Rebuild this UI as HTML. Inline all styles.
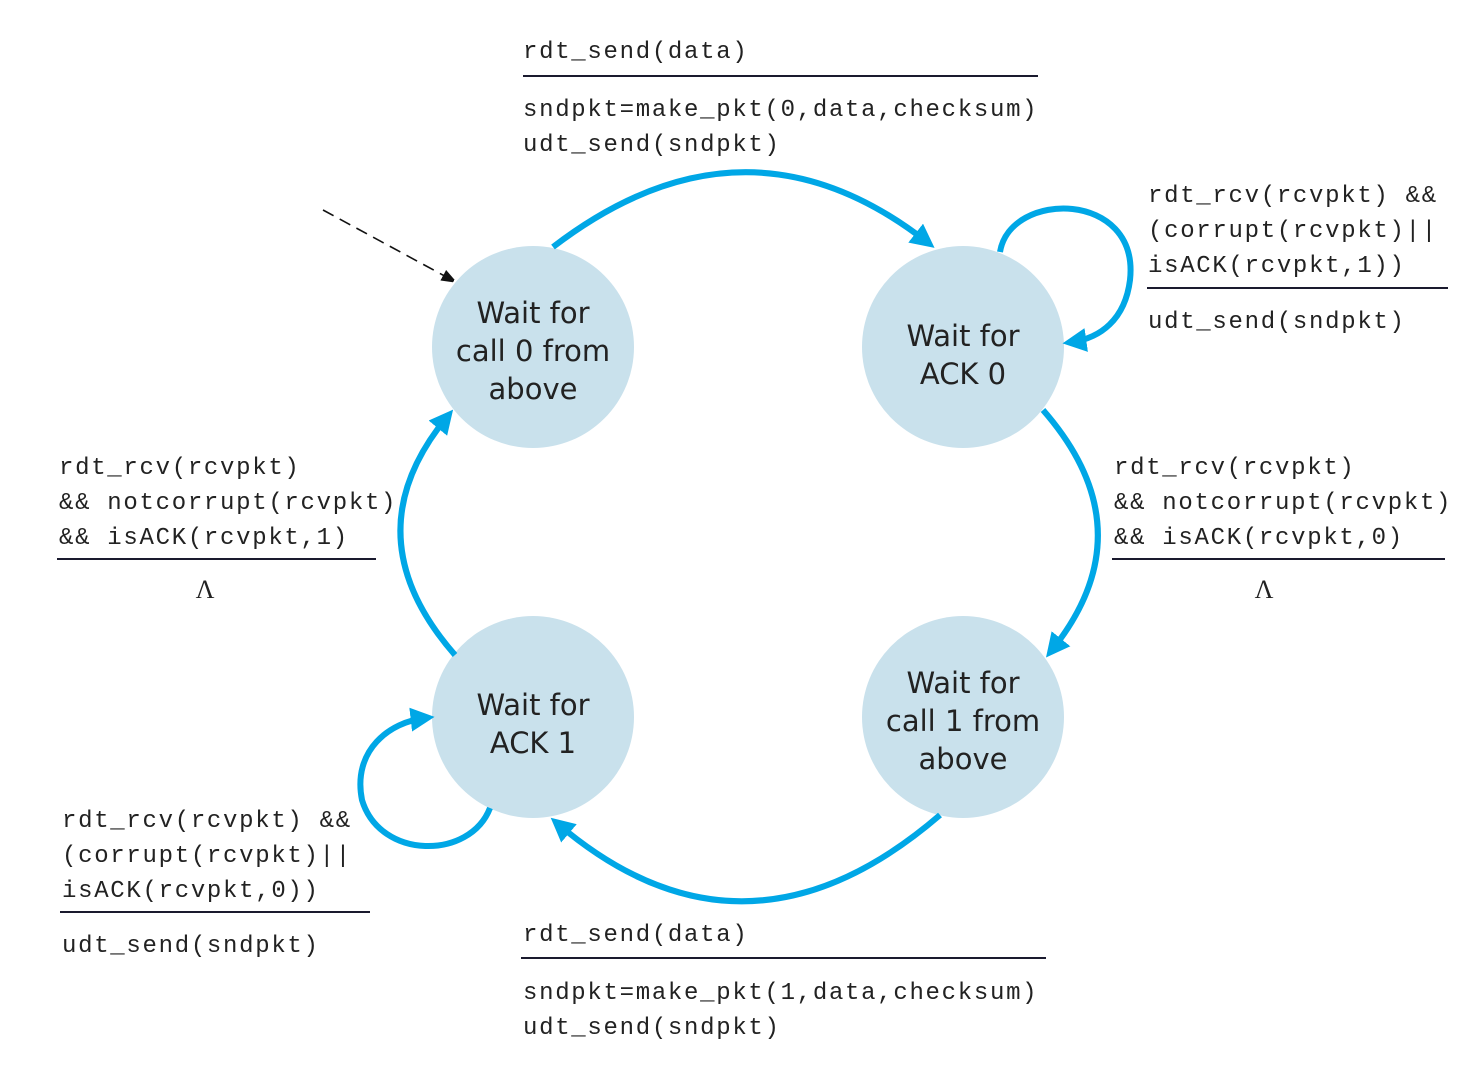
<!DOCTYPE html>
<html><head><meta charset="utf-8"><style>
html,body{margin:0;padding:0;background:#fff;}
svg{display:block;}
.m{font-family:"Liberation Mono",monospace;font-size:24px;letter-spacing:1.7px;fill:#222;}
.s{font-family:"DejaVu Sans","Liberation Sans",sans-serif;font-size:29px;fill:#222;text-anchor:middle;}
.l{stroke:#1a1a2e;stroke-width:2;}
.a{fill:none;stroke:#00a7e6;stroke-width:6;}
</style></head><body>
<svg width="1480" height="1065" viewBox="0 0 1480 1065" xmlns="http://www.w3.org/2000/svg">
<defs>
<marker id="ab" markerWidth="4" markerHeight="4" refX="2.4" refY="2" orient="auto" markerUnits="strokeWidth">
<path d="M0,0 L4,2 L0,4 Z" fill="#00a7e6"/></marker>
<marker id="ak" markerWidth="12" markerHeight="12" refX="10" refY="6" orient="auto" markerUnits="userSpaceOnUse">
<path d="M0,0 L16,6 L0,12 Z" fill="#111"/></marker>
</defs>
<circle cx="533" cy="347" r="101" fill="#c9e1ec"/>
<circle cx="963" cy="347" r="101" fill="#c9e1ec"/>
<circle cx="533" cy="717" r="101" fill="#c9e1ec"/>
<circle cx="963" cy="717" r="101" fill="#c9e1ec"/>
<text class="s" x="533" y="323">Wait for</text>
<text class="s" x="533" y="361">call 0 from</text>
<text class="s" x="533" y="399">above</text>
<text class="s" x="963" y="346">Wait for</text>
<text class="s" x="963" y="384">ACK 0</text>
<text class="s" x="533" y="715">Wait for</text>
<text class="s" x="533" y="753">ACK 1</text>
<text class="s" x="963" y="693">Wait for</text>
<text class="s" x="963" y="731">call 1 from</text>
<text class="s" x="963" y="769">above</text>

<path class="a" d="M553,247 Q745,100 927,242" marker-end="url(#ab)"/>
<path class="a" d="M1043,410 Q1148,530 1052,650" marker-end="url(#ab)"/>
<path class="a" d="M940,815 Q745,983 558,824" marker-end="url(#ab)"/>
<path class="a" d="M455,655 Q350,535 447,417" marker-end="url(#ab)"/>
<path class="a" d="M1000,252 C1010,190 1140,190 1130,280 C1125,320 1100,338 1072,342" marker-end="url(#ab)"/>
<path class="a" d="M490,808 C470,860 380,860 362,800 C352,750 390,722 425,718" marker-end="url(#ab)"/>
<path d="M323,210 L452,280" stroke="#111" stroke-width="1.6" stroke-dasharray="12,7" fill="none" marker-end="url(#ak)"/>

<text class="m" x="523" y="58">rdt_send(data)</text>
<line class="l" x1="523" y1="76" x2="1038" y2="76"/>
<text class="m" x="523" y="116">sndpkt=make_pkt(0,data,checksum)</text>
<text class="m" x="523" y="151">udt_send(sndpkt)</text>

<text class="m" x="1148" y="202">rdt_rcv(rcvpkt) &amp;&amp;</text>
<text class="m" x="1148" y="237">(corrupt(rcvpkt)||</text>
<text class="m" x="1148" y="272">isACK(rcvpkt,1))</text>
<line class="l" x1="1147" y1="288" x2="1448" y2="288"/>
<text class="m" x="1148" y="328">udt_send(sndpkt)</text>

<text class="m" x="1114" y="474">rdt_rcv(rcvpkt)</text>
<text class="m" x="1114" y="509">&amp;&amp; notcorrupt(rcvpkt)</text>
<text class="m" x="1114" y="544">&amp;&amp; isACK(rcvpkt,0)</text>
<line class="l" x1="1112" y1="559" x2="1445" y2="559"/>
<text x="1264" y="598" font-family="Liberation Serif,serif" font-size="26" text-anchor="middle" fill="#222">Λ</text>

<text class="m" x="59" y="474">rdt_rcv(rcvpkt)</text>
<text class="m" x="59" y="509">&amp;&amp; notcorrupt(rcvpkt)</text>
<text class="m" x="59" y="544">&amp;&amp; isACK(rcvpkt,1)</text>
<line class="l" x1="57" y1="559" x2="376" y2="559"/>
<text x="205" y="598" font-family="Liberation Serif,serif" font-size="26" text-anchor="middle" fill="#222">Λ</text>

<text class="m" x="62" y="827">rdt_rcv(rcvpkt) &amp;&amp;</text>
<text class="m" x="62" y="862">(corrupt(rcvpkt)||</text>
<text class="m" x="62" y="897">isACK(rcvpkt,0))</text>
<line class="l" x1="60" y1="912" x2="370" y2="912"/>
<text class="m" x="62" y="952">udt_send(sndpkt)</text>

<text class="m" x="523" y="941">rdt_send(data)</text>
<line class="l" x1="521" y1="958" x2="1046" y2="958"/>
<text class="m" x="523" y="999">sndpkt=make_pkt(1,data,checksum)</text>
<text class="m" x="523" y="1034">udt_send(sndpkt)</text>
</svg>
</body></html>
